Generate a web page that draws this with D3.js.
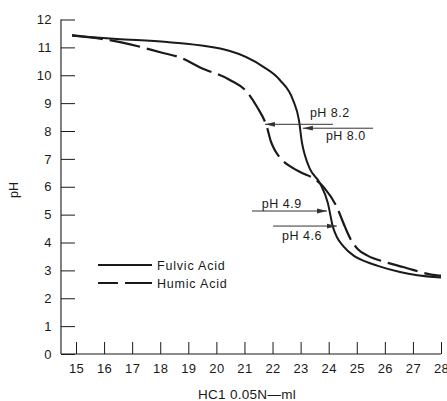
<!DOCTYPE html>
<html>
<head>
<meta charset="utf-8">
<script src="https://cdn.jsdelivr.net/npm/d3@7"></script>
<style>
  html, body { margin: 0; padding: 0; background: #fff; }
  svg { display: block; }
  text { font-family: "Liberation Sans", Arial, Helvetica, sans-serif; fill: #1a1a1a; }
</style>
</head>
<body>
<svg id="chart" width="447" height="401"></svg>
<script>
// ---- data ----
const xTickValues = [15,16,17,18,19,20,21,22,23,24,25,26,27,28];
const yTickValues = [0,1,2,3,4,5,6,7,8,9,10,11,12];

const fulvicHCl = [14.86,16.46,18.24,20.48,21.66,22.26,22.73,22.94,23.05,23.15,23.33,23.69,23.97,24.15,24.30,24.51,24.90,25.30,25.72,26.54,27.86,28.0];
const fulvicPH  = [11.42,11.30,11.19,10.87,10.31,9.83,9.11,8.39,7.57,7.14,6.64,6.13,5.42,4.56,4.18,3.88,3.52,3.32,3.17,2.94,2.75,2.74];

const humicHCl = [14.86,16.57,18.10,18.70,19.42,20.48,21.09,21.45,21.80,21.95,22.10,22.35,22.73,22.98,23.58,23.85,24.29,24.58,24.78,25.05,25.40,26.00,26.65,27.86,28.0];
const humicPH  = [11.44,11.19,10.80,10.64,10.28,9.83,9.40,8.86,8.14,7.60,7.28,6.95,6.67,6.53,6.22,5.95,5.27,4.56,4.12,3.75,3.52,3.30,3.12,2.82,2.81];

const arrowLabels = ["pH 8.2","pH 8.0","pH 4.9","pH 4.6"];
const arrowPH     = [8.24, 8.10, 5.13, 4.59];
const arrowFrom   = [24.15, 25.58, 21.27, 22.02];
const arrowTo     = [21.73, 23.08, 23.94, 24.29];
const labelX      = [23.33, 23.90, 21.62, 22.34];
const labelPH     = [8.50, 7.68, 5.24, 4.09];

const seriesNames = ["Fulvic Acid", "Humic Acid"];

// ---- layout ----
const svg = d3.select("#chart");
const x = d3.scaleLinear().domain([15, 28]).range([76, 441]);
const y = d3.scaleLinear().domain([0, 12]).range([354, 19.5]);
const axisLeftX = x(14.465);
const ink = "#1a1a1a";

// axes
const gx = svg.append("g").attr("transform", `translate(0,${y(0)})`)
  .call(d3.axisBottom(x).tickValues(xTickValues).tickSizeInner(-12).tickSizeOuter(0).tickPadding(9.5));
gx.select(".domain").remove();
gx.selectAll(".tick line").attr("stroke", ink).attr("stroke-width", 1);
gx.selectAll(".tick text").attr("font-size", 13).attr("fill", ink)
  .style("font-family", '"Liberation Sans", Arial, sans-serif').style("letter-spacing", "0.4px");

const gy = svg.append("g").attr("transform", `translate(${axisLeftX},0)`)
  .call(d3.axisLeft(y).tickValues(yTickValues).tickSizeInner(-14).tickSizeOuter(0).tickPadding(9));
gy.select(".domain").remove();
gy.selectAll(".tick line").attr("stroke", ink).attr("stroke-width", 1);
gy.selectAll(".tick text").attr("font-size", 13).attr("fill", ink)
  .style("font-family", '"Liberation Sans", Arial, sans-serif').style("letter-spacing", "0.4px");

// axis lines
svg.append("line").attr("x1", axisLeftX).attr("x2", axisLeftX).attr("y1", y(12)).attr("y2", y(0))
  .attr("stroke", ink).attr("stroke-width", 1.1);
svg.append("line").attr("x1", axisLeftX).attr("x2", x(28)).attr("y1", y(0)).attr("y2", y(0))
  .attr("stroke", ink).attr("stroke-width", 1.1);

// axis titles
svg.append("text").attr("x", 247).attr("y", 398.5).attr("text-anchor", "middle")
  .attr("font-size", 13.5).style("letter-spacing", "0.3px").text("HC1 0.05N\u2014ml");
svg.append("text").attr("transform", "translate(18,190) rotate(-90)").attr("text-anchor", "middle")
  .attr("font-size", 12.5).text("pH");

// curves
const line = d3.line().x(d => x(d[0])).y(d => y(d[1])).curve(d3.curveMonotoneX);
const fulvic = fulvicHCl.map((v, i) => [v, fulvicPH[i]]);
const humic = humicHCl.map((v, i) => [v, humicPH[i]]);

svg.append("path").datum(humic).attr("d", line).attr("fill", "none")
  .attr("stroke", ink).attr("stroke-width", 2.2).attr("stroke-dasharray", "31,7");
svg.append("path").datum(fulvic).attr("d", line).attr("fill", "none")
  .attr("stroke", ink).attr("stroke-width", 2);

// arrows
const defs = svg.append("defs");
defs.append("marker").attr("id", "arr").attr("viewBox", "0 0 10 6")
  .attr("refX", 10).attr("refY", 3).attr("markerWidth", 10).attr("markerHeight", 6)
  .attr("markerUnits", "userSpaceOnUse").attr("orient", "auto")
  .append("path").attr("d", "M0,0.6 L10,3 L0,5.4 Z").attr("fill", "#333");

arrowLabels.forEach((lab, i) => {
  svg.append("line")
    .attr("x1", x(arrowFrom[i])).attr("x2", x(arrowTo[i]))
    .attr("y1", y(arrowPH[i])).attr("y2", y(arrowPH[i]))
    .attr("stroke", "#333").attr("stroke-width", 1)
    .attr("marker-end", "url(#arr)");
  svg.append("text").attr("x", x(labelX[i])).attr("y", y(labelPH[i]))
    .attr("font-size", 12.5).style("letter-spacing", "0.5px").text(lab);
});

// legend
const legend = svg.append("g");
legend.append("line").attr("x1", 98).attr("x2", 152).attr("y1", 265).attr("y2", 265)
  .attr("stroke", ink).attr("stroke-width", 2);
legend.append("line").attr("x1", 98).attr("x2", 152).attr("y1", 283).attr("y2", 283)
  .attr("stroke", ink).attr("stroke-width", 2).attr("stroke-dasharray", "20,7,27");
seriesNames.forEach((n, i) => {
  legend.append("text").attr("x", 157).attr("y", 269.5 + i * 18)
    .attr("font-size", 12.5).style("letter-spacing", "0.8px").text(n);
});
</script>
</body>
</html>
